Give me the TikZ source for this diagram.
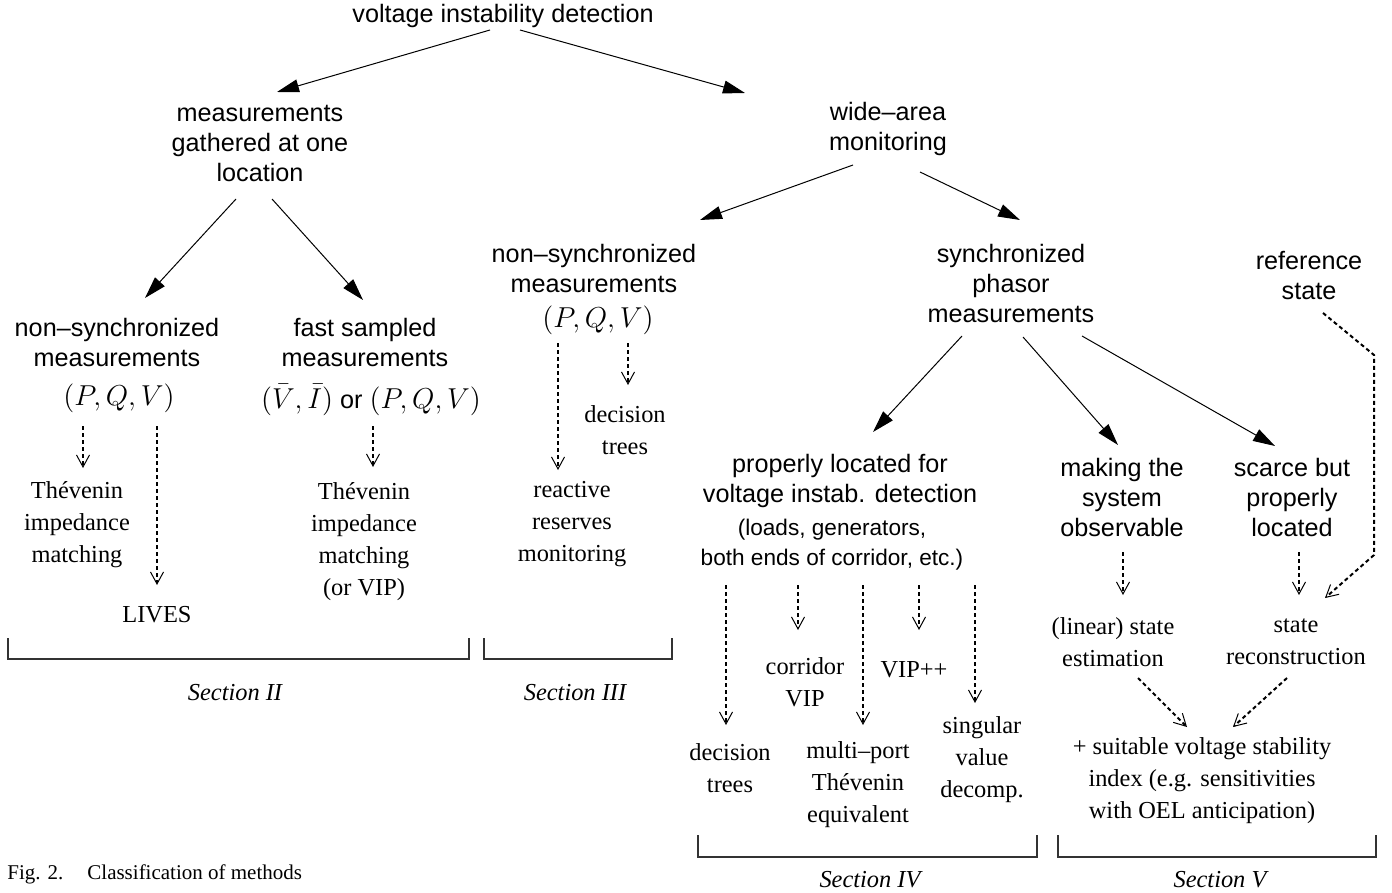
\documentclass[tikz,border=0pt]{standalone}
\usepackage{fontspec}
\usepackage{graphicx}
\setmainfont{Liberation Serif}
\setsansfont{Liberation Sans}
\usetikzlibrary{arrows.meta,calc}
\begin{document}
\begin{tikzpicture}[x=0.5pt,y=-0.5pt,
 sf/.style={font=\sffamily\fontsize{12.6}{15}\selectfont, align=center, inner sep=0pt},
 sfs/.style={font=\sffamily\fontsize{11.3}{15}\selectfont, align=center, inner sep=0pt},
 rm/.style={font=\rmfamily\fontsize{12.2}{16}\selectfont, align=center, inner sep=0pt},
 sec/.style={font=\rmfamily\itshape\fontsize{12.2}{16}\selectfont, inner sep=0pt},
 mth/.style={font=\fontsize{14.2}{16}\selectfont, inner sep=0pt},
 sarr/.style={line width=0.5pt, -{Triangle[length=11pt,width=6.5pt]}},
 darr/.style={line width=1pt, dash pattern=on 2pt off 1.5pt, -{Straight Barb[length=6pt,width=6.5pt,line width=0.5pt]}},
 brk/.style={line width=0.6pt, draw=black!80}]
\useasboundingbox (0,0) rectangle (1392,893);
% top levels
\node[sf] (root) at (503,16) {voltage instability detection};
\node[sf] (meas) at (260,143) {measurements\\gathered at one\\location};
\node[sf] (wide) at (888,129) {wide--area\\monitoring};
% section II
\node[sf] (nsA) at (117,342) {non--synchronized\\measurements};
\node[mth] (mathA) at (119,398) {$(P,Q,V)$};
\node[sf] (fast) at (365,342) {fast sampled\\measurements};
\node[mth] (mathB) at (371,400) {$(\bar V,\bar I)$ {\sffamily\fontsize{12.6}{15}\selectfont or} $(P,Q,V)$};
\node[rm] (theA) at (77,525) {Thévenin\\impedance\\matching};
\node[rm] (lives) at (157,615) {LIVES};
\node[rm] (theB) at (364,542) {Thévenin\\impedance\\matching\\(or VIP)};
% section III
\node[sf] (nsB) at (594,268) {non--synchronized\\measurements};
\node[mth] (mathC) at (598,320) {$(P,Q,V)$};
\node[rm] (dtB) at (625,430) {decision\\trees};
\node[rm] (react) at (572,524) {reactive\\reserves\\monitoring};
% synchronized
\node[sf] (sync) at (1011,283) {synchronized\\phasor\\measurements};
\node[sf] (propA) at (840,481) {properly located for\\voltage instab. detection};
\node[sfs] (propB) at (832,545) {(loads, generators,\\both ends of corridor, etc.)};
\node[sf] (make) at (1122,497) {making the\\system\\observable};
\node[sf] (scarce) at (1292,497) {scarce but\\properly\\located};
\node[sf] (ref) at (1309,276) {reference\\state};
\node[rm] (lin) at (1113,642) {(linear) state\\estimation};
\node[rm] (recon) at (1296,642) {state\\reconstruction};
\node[rm] (suit) at (1202,781) {+ suitable voltage stability\\index (e.g. sensitivities\\with OEL anticipation)};
\node[rm] (corr) at (805,682) {corridor\\VIP};
\node[rm] (vippp) at (914,670) {VIP++};
\node[rm] (dtC) at (730,768) {decision\\trees};
\node[rm] (multi) at (858,785) {multi--port\\Thévenin\\equivalent};
\node[rm] (sing) at (982,760) {singular\\value\\decomp.};
% sections
\node[sec] (secII) at (235,693) {Section II};
\node[sec] (secIII) at (575,693) {Section III};
\node[sec] (secIV) at (870,880) {Section IV};
\node[sec] (secV) at (1220,880) {Section V};
\node[anchor=west, font=\rmfamily\fontsize{10.5}{12}\selectfont, inner sep=0pt] (cap) at (7,874) {Fig. 2.\hspace{12pt}Classification of methods};
% brackets
\draw[brk] (8,638) -- (8,659) -- (469,659) -- (469,638);
\draw[brk] (484,638) -- (484,659) -- (672,659) -- (672,638);
\draw[brk] (698,835) -- (698,857) -- (1037,857) -- (1037,835);
\draw[brk] (1058,835) -- (1058,857) -- (1376,857) -- (1376,835);
% solid arrows
\draw[sarr] ($(root)+(-13,14)$) -- ($(meas)+(17,-51)$);
\draw[sarr] ($(root)+(17,14)$) -- ($(wide)+(-143,-36)$);
\draw[sarr] ($(meas)+(-24,56)$) -- ($(nsA)+(28,-44)$);
\draw[sarr] ($(meas)+(12,56)$) -- ($(fast)+(-2,-42)$);
\draw[sarr] ($(wide)+(-35,36)$) -- ($(nsB)+(106,-48)$);
\draw[sarr] ($(wide)+(32,43)$) -- ($(sync)+(9,-63)$);
\draw[sarr] ($(sync)+(-49,53)$) -- ($(propA)+(33,-49)$);
\draw[sarr] ($(sync)+(12,54)$) -- ($(make)+(-4,-52)$);
\draw[sarr] ($(sync)+(71,53)$) -- ($(scarce)+(-17,-51)$);
% dashed arrows
\draw[darr] ($(mathA)+(-36,28)$) -- ($(theA)+(6,-57)$);
\draw[darr] ($(mathA)+(38,28)$) -- ($(lives)+(0,-30)$);
\draw[darr] ($(mathB)+(2,26)$) -- ($(theB)+(9,-75)$);
\draw[darr] ($(mathC)+(-40,23)$) -- ($(react)+(-14,-54)$);
\draw[darr] ($(mathC)+(30,23)$) -- ($(dtB)+(3,-45)$);
\draw[darr] ($(propB)+(-106,40)$) -- ($(dtC)+(-4,-43)$);
\draw[darr] ($(propB)+(-34,40)$) -- ($(corr)+(-7,-52)$);
\draw[darr] ($(propB)+(31,40)$) -- ($(multi)+(5,-60)$);
\draw[darr] ($(propB)+(87,40)$) -- ($(vippp)+(5,-40)$);
\draw[darr] ($(propB)+(143,40)$) -- ($(sing)+(-7,-57)$);
\draw[darr] ($(make)+(1,55)$) -- ($(lin)+(10,-47)$);
\draw[darr] ($(scarce)+(7,55)$) -- ($(recon)+(3,-47)$);
\draw[darr] ($(ref)+(14,37)$) -- ($(ref)+(65,79)$) -- ($(ref)+(65,279)$) -- ($(recon)+(29,-44)$);
\draw[darr] ($(lin)+(25,36)$) -- ($(suit)+(-15,-54)$);
\draw[darr] ($(recon)+(-9,36)$) -- ($(suit)+(31,-54)$);
\end{tikzpicture}
\end{document}
